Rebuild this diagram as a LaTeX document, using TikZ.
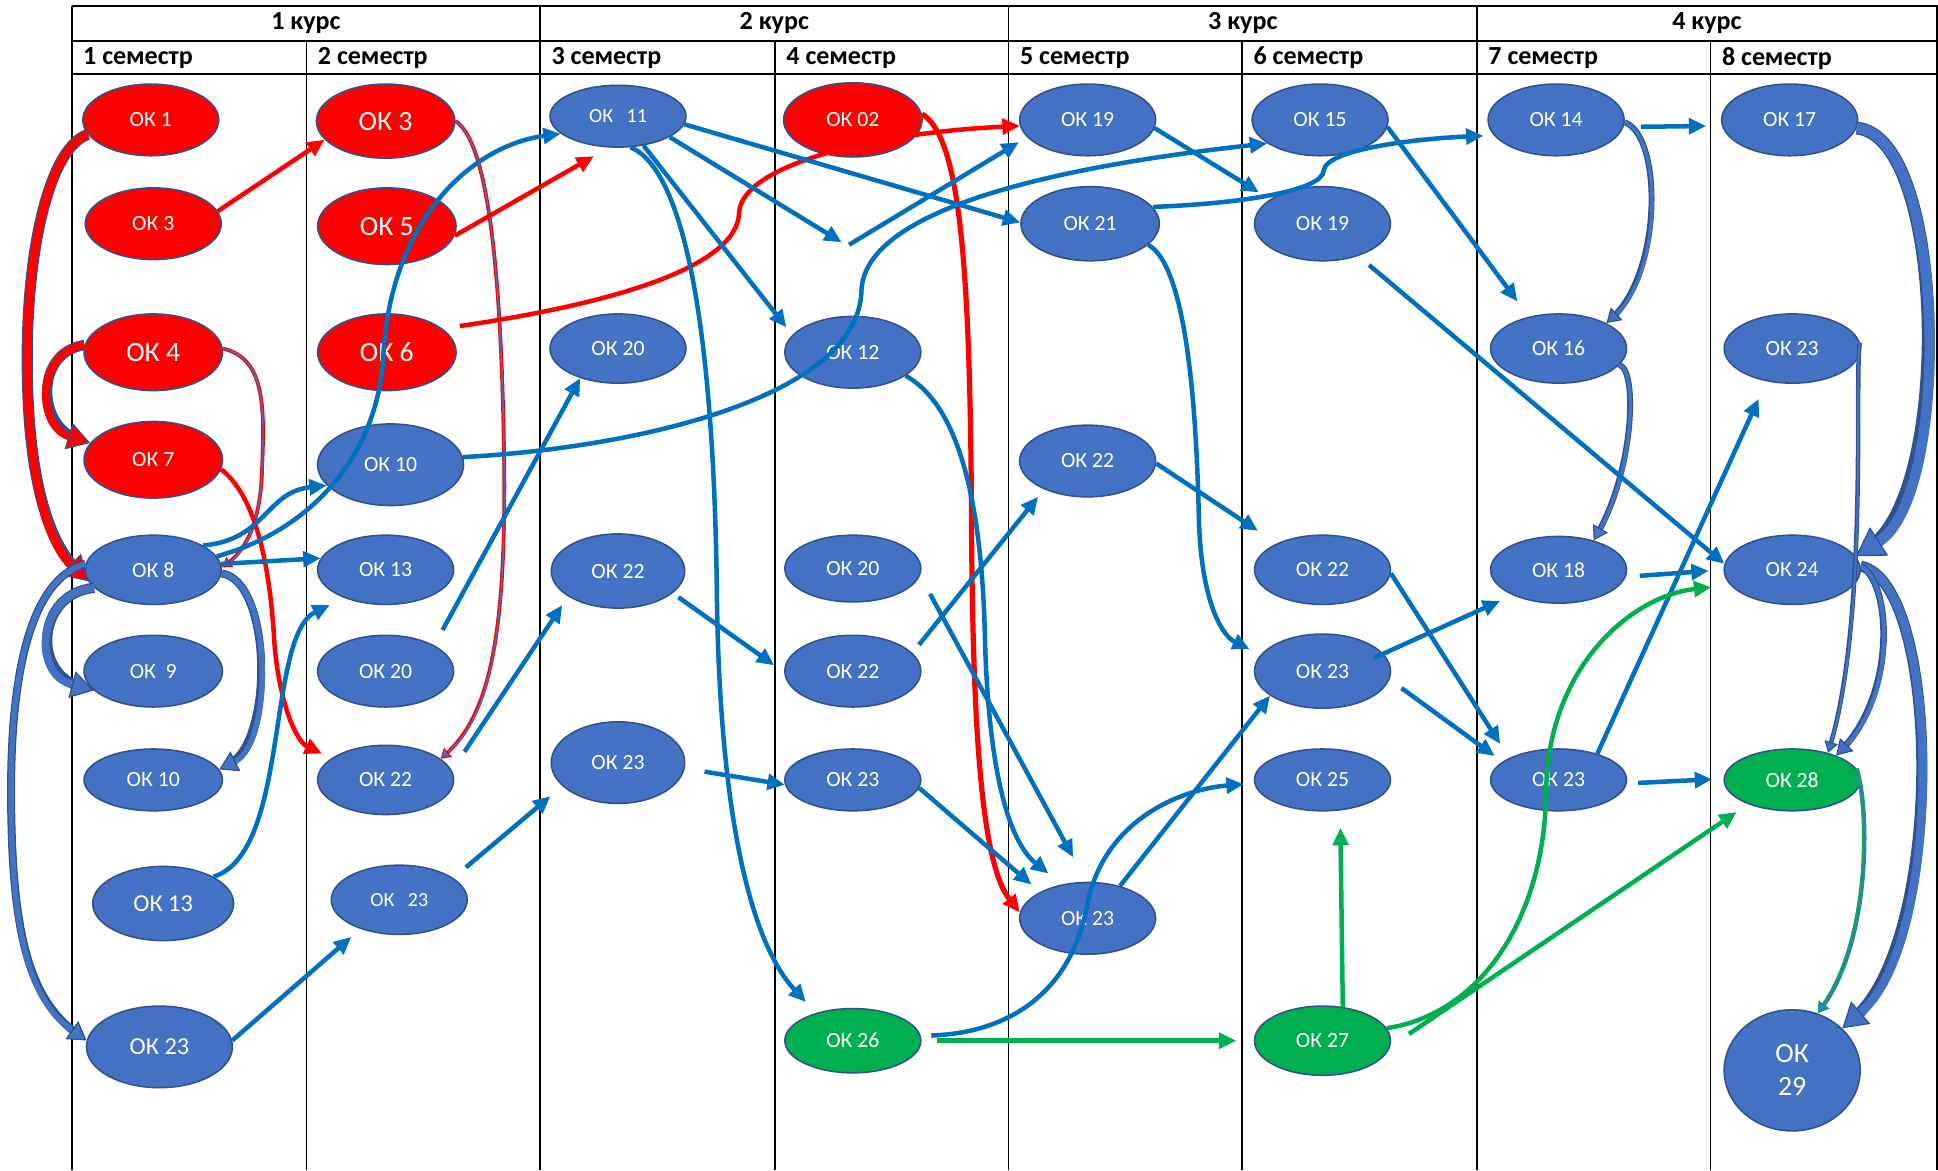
\documentclass[tikz,border=0pt]{standalone}
\usepackage{fontspec}
\setmainfont{Carlito}
\usepackage{tikz}
\usetikzlibrary{shapes.geometric, arrows.meta}
\definecolor{okfill}{HTML}{4472C4}
\definecolor{okline}{HTML}{2F528F}
\definecolor{okred}{HTML}{FF0000}
\definecolor{okgreen}{HTML}{00B050}
\definecolor{lnblue}{HTML}{0070C0}

\begin{document}
\begin{tikzpicture}[x=0.25mm, y=-0.25mm,
	ok/.style={ellipse, draw=okline, line width=0.9pt, fill=okfill, text=white, inner sep=0pt,
		minimum width=27.5mm, minimum height=14.5mm, font=\fontsize{12.5}{14}\selectfont},
	okr/.style={ok, fill=okred},
	okg/.style={ok, fill=okgreen},
	big/.style={font=\fontsize{16}{19}\selectfont},
	mid/.style={font=\fontsize{14}{16}\selectfont},
	hd/.style={font=\bfseries\fontsize{15}{17}\selectfont, inner sep=0pt},
	lnk/.style={draw=#1, line width=2.6pt, -{Triangle[length=10pt,width=9pt]}},
	lnk/.default=lnblue,
	blk/.style n args={3}{draw=#1, line width=#3,
		preaction={draw=#2, line width=#3+1.4pt, arrows=-, shorten >=2pt+1.2*#3},
		-{Triangle[length=4pt 2, width=5pt 2.4, fill=#1, color=#2, line width=0.7pt]}}]
	\useasboundingbox (0,0) rectangle (1568,947);
	\draw[line width=1.3pt] (58,5) -- (1568,5) (58,33) -- (1568,33) (58,60) -- (1568,60);
	\foreach \x in {58,437,816,1195,1567} \draw[line width=1pt] (\x,5) -- (\x,947);
	\foreach \x in {248,627,1005,1384} \draw[line width=1pt] (\x,33) -- (\x,947);
	\foreach \c [count=\i] in {247.5,626.5,1005.5,1381} \node[hd] (kurs\i) at (\c,19) {\i\ курс};
	\foreach \x [count=\i] in {58,248,437,627,816,1005,1195,1384}
		\node[hd, anchor=west] (sem\i) at (\x+9,47) {\i\ семестр};

	\node[okr] (s1k1) at (122,97) {ОК 1};
	\node[okr] (s1k3) at (124,181) {ОК 3};
	\node[okr, big, minimum width=28mm, minimum height=15.5mm] (s1k4) at (124,285) {ОК 4};
	\node[okr, minimum width=28mm, minimum height=15.5mm] (s1k7) at (124,372) {ОК 7};
	\node[ok, minimum height=14mm] (s1k8) at (124,461) {ОК 8};
	\node[ok, minimum width=28mm] (s1k9) at (124,543) {ОК\ \ 9};
	\node[ok, minimum width=28mm, minimum height=12.5mm] (s1k10) at (124,631) {ОК 10};
	\node[ok, mid, minimum width=28.5mm, minimum height=15mm] (s1k13) at (132,731) {ОК 13};
	\node[ok, mid, minimum width=29.5mm, minimum height=16.5mm] (s1k23) at (129,847) {ОК 23};

	\node[okr, big, minimum width=28mm, minimum height=15mm] (s2k3) at (312,98) {ОК 3};
	\node[okr, big, minimum width=28mm, minimum height=15.5mm] (s2k5) at (313,183) {ОК 5};
	\node[okr, big, minimum width=28mm, minimum height=15.5mm] (s2k6) at (313,285) {ОК 6};
	\node[ok, minimum width=29.5mm, minimum height=16.5mm] (s2k10) at (316,376) {ОК 10};
	\node[ok, minimum height=14mm] (s2k13) at (312,461) {ОК 13};
	\node[ok] (s2k20) at (312,543) {ОК 20};
	\node[ok, minimum height=14mm] (s2k22) at (312,631) {ОК 22};
	\node[ok, minimum height=14mm, font=\fontsize{11.5}{13}\selectfont] (s2k23) at (323,728) {ОК\ \ \ 23};

	\node[ok, minimum height=12.5mm, font=\fontsize{11.5}{13}\selectfont] (s3k11) at (500,94) {ОК\ \ \ 11};
	\node[ok, minimum height=14mm] (s3k20) at (500,282) {ОК 20};
	\node[ok, minimum width=27mm, minimum height=15mm] (s3k22) at (500,462) {ОК 22};
	\node[ok, minimum width=27mm, minimum height=16.5mm] (s3k23) at (500,617) {ОК 23};

	\node[okr, minimum width=28mm, minimum height=15mm] (s4k02) at (690,97) {ОК 02};
	\node[ok] (s4k12) at (690,285) {ОК 12};
	\node[ok, minimum height=13.5mm] (s4k20) at (690,460) {ОК 20};
	\node[ok] (s4k22) at (690,543) {ОК 22};
	\node[ok, minimum height=12.5mm] (s4k23) at (690,631) {ОК 23};
	\node[okg, minimum height=13mm] (s4k26) at (690,842) {ОК 26};

	\node[ok] (s5k19) at (880,97) {ОК 19};
	\node[ok, minimum width=28mm, minimum height=15mm] (s5k21) at (882,181) {ОК 21};
	\node[ok] (s5k22) at (880,373) {ОК 22};
	\node[ok] (s5k23) at (880,743) {ОК 23};

	\node[ok] (s6k15) at (1068,97) {ОК 15};
	\node[ok, minimum height=15mm] (s6k19) at (1070,181) {ОК 19};
	\node[ok, minimum height=14mm] (s6k22) at (1070,461) {ОК 22};
	\node[ok, minimum height=15mm] (s6k23) at (1070,543) {ОК 23};
	\node[ok, minimum height=12.5mm] (s6k25) at (1070,631) {ОК 25};
	\node[okg, minimum height=14mm] (s6k27) at (1070,842) {ОК 27};

	\node[ok] (s7k14) at (1259,97) {ОК 14};
	\node[ok, minimum height=14mm] (s7k16) at (1261,282) {ОК 16};
	\node[ok, minimum height=13.5mm] (s7k18) at (1261,461) {ОК 18};
	\node[ok, minimum height=12.5mm] (s7k23) at (1261,631) {ОК 23};

	\node[ok] (s8k17) at (1448,97) {ОК 17};
	\node[ok, minimum height=14mm] (s8k23) at (1450,282) {ОК 23};
	\node[ok, minimum height=14mm] (s8k24) at (1450,461) {ОК 24};
	\node[okg, minimum height=12.5mm] (s8k28) at (1450,631) {ОК 28};
	\node[ok, big, align=center, minimum height=24.5mm] (s8k29) at (1450,866) {ОК\\29};

	\coordinate (free1) at (681,196);
	\coordinate (free2) at (687,198);

	\draw[blk={okred}{okline}{5pt}] (s1k1.193) .. controls (40,120) and (22,200) .. (22,290) .. controls (22,390) and (40,440) .. (s1k8.190);
	\draw[blk={okred}{okline}{4.5pt}] (s1k4.174) .. controls (28,285) and (30,345) .. (s1k7.165);
	\draw[blk={okfill}{okline}{4.5pt}] (s1k8.197) .. controls (30,480) and (25,545) .. (s1k9.198);
	\draw[blk={okfill}{okline}{3.2pt}] (s1k8.175) .. controls (20,470) and (8,560) .. (9,650) .. controls (10,760) and (25,810) .. (s1k23.175);
	\draw[blk={okfill}{okline}{3.2pt}] (s1k8.357) .. controls (220,470) and (222,600) .. (s1k10.9);
	\draw[blk={okfill}{okred}{0.8pt}] (s1k4.3) .. controls (215,290) and (214,330) .. (212,380) .. controls (211,420) and (200,445) .. (s1k8.2);
	\draw[blk={okfill}{okred}{0.8pt}] (s2k3.0) .. controls (395,115) and (406,220) .. (408,380) .. controls (409,520) and (395,580) .. (s2k22.21);
	\draw[blk={okfill}{okline}{2pt}] (s7k14.358) .. controls (1345,110) and (1345,220) .. (s7k16.28);
	\draw[blk={okfill}{okline}{2pt}] (s7k16.345) .. controls (1325,300) and (1322,380) .. (s7k18.40);
	\draw[blk={okfill}{okline}{6pt}] (s8k17.353) .. controls (1575,110) and (1580,400) .. (s8k24.12);
	\draw[blk={okfill}{okline}{5pt}] (s8k24.3) .. controls (1570,470) and (1575,760) .. (s8k29.40);
	\draw[blk={okfill}{okline}{2.4pt}] (s8k24.3) .. controls (1530,470) and (1535,560) .. (s8k28.29);
	\draw[blk={okfill}{okline}{1.2pt}] (s8k23.5) .. controls (1500,300) and (1512,500) .. (s8k28.37);
	\draw[blk={okfill}{okgreen}{1.2pt}] (s8k28.10) .. controls (1512,650) and (1515,760) .. (s8k29.66);

	\draw[lnk=okred] (s1k3.11) -- (s2k3.197);
	\draw[lnk=okred, shorten >=10pt] (s2k5.352) -- (s3k11.254);
	\draw[lnk=okred, shorten <=10pt] (s2k6.23) .. controls (500,245) and (597,215) .. (598,172) .. controls (600,135) and (700,108) .. (s5k19.185);
	\draw[lnk=okred, line width=3pt] (s4k02.5) .. controls (775,110) and (785,200) .. (786,420) .. controls (787,600) and (795,700) .. (s5k23.175);
	\draw[lnk=okred, shorten >=6pt] (s1k7.352) .. controls (205,400) and (218,450) .. (222,520) .. controls (226,570) and (240,600) .. (s2k22.158);

	\draw[lnk] (s1k8.26) .. controls (215,437) and (215,398) .. (s2k10.198);
	\draw[lnk] (s1k8.12) .. controls (250,430) and (305,370) .. (310,290) .. controls (315,180) and (380,118) .. (s3k11.197);
	\draw[lnk] (s1k8.5) -- (s2k13.170);
	\draw[lnk, shorten >=9pt] (s1k13.28) .. controls (235,690) and (215,515) .. (s2k13.214);
	\draw[lnk, shorten >=7pt] (s1k23.5) -- (s2k23.217);
	\draw[lnk, shorten <=10pt] (s2k20.28) -- (s3k20.218);
	\draw[lnk, shorten <=13pt, shorten >=6pt] (s2k22.8) -- (s3k22.207);
	\draw[lnk, shorten <=9.5pt, shorten >=9pt] (s2k23.22) -- (s3k23.203);
	\draw[lnk] (s2k10.6) .. controls (520,362) and (695,320) .. (697,235) .. controls (700,160) and (900,130) .. (s6k15.204);
	\draw[lnk] (s3k11.353) -- (s5k21.179);
	\draw[lnk] (s3k11.338) -- (free1);
	\draw[lnk, shorten >=5.5pt] (free2) -- (s5k19.196);
	\draw[lnk, shorten >=5.5pt] (s3k11.311) -- (s4k12.164);
	\draw[lnk, shorten >=8.5pt] (s3k11.292) .. controls (560,140) and (578,300) .. (580,480) .. controls (582,650) and (605,760) .. (s4k26.143);
	\draw[lnk, shorten <=4pt, shorten >=7pt] (s3k22.338) -- (s4k22.181);
	\draw[lnk, shorten <=11.5pt] (s3k23.355) -- (s4k23.184);
	\draw[lnk, shorten >=10pt] (s4k12.336) .. controls (780,330) and (795,420) .. (797,520) .. controls (800,620) and (815,680) .. (s5k23.127);
	\draw[lnk, shorten <=12pt, shorten >=16pt] (s4k20.354) -- (s5k23.92);
	\draw[lnk, shorten <=6pt, shorten >=5.5pt] (s4k22.17) -- (s5k22.213);
	\draw[lnk, shorten >=6.5pt] (s4k23.353) -- (s5k23.151);
	\draw[lnk, shorten >=7.5pt] (s5k19.353) -- (s6k19.155);
	\draw[lnk, shorten >=6pt] (s5k21.15) .. controls (1000,165) and (1070,155) .. (1071,138) .. controls (1073,120) and (1150,112) .. (s7k14.194);
	\draw[lnk, shorten >=13pt] (s5k22.358) -- (s6k22.150);
	\draw[lnk, shorten >=7pt] (s5k21.340) .. controls (960,215) and (968,330) .. (970,420) .. controls (972,490) and (990,515) .. (s6k23.165);
	\draw[lnk] (s5k23.45) -- (s6k23.205);
	\draw[lnk, shorten <=6pt, shorten >=6pt] (s4k26.4) .. controls (830,835) and (870,790) .. (880,730) .. controls (895,660) and (960,638) .. (s6k25.183);
	\draw[lnk, shorten <=8pt] (s6k19.318) -- (s8k24.175);
	\draw[lnk, shorten >=11pt] (s6k15.354) -- (s7k16.133);
	\draw[lnk, shorten >=9.5pt] (s6k22.357) -- (s7k23.156);
	\draw[lnk, shorten <=-6pt, shorten >=8pt] (s6k23.16) -- (s7k18.209);
	\draw[lnk, shorten <=8.5pt, shorten >=5.5pt] (s6k23.353) -- (s7k23.162);
	\draw[lnk, shorten <=10pt, shorten >=9pt] (s7k14.354) -- (s8k17.185);
	\draw[lnk, shorten <=8pt, shorten >=8.5pt] (s7k18.354) -- (s8k24.180);
	\draw[lnk, shorten >=11pt] (s7k23.34) -- (s8k23.232);
	\draw[lnk, shorten <=6.5pt, shorten >=6.5pt] (s7k23.357) -- (s8k28.179);

	\draw[lnk=okgreen, shorten <=9pt, shorten >=10pt] (s4k26.0) -- (s6k27.180);
	\draw[lnk=okgreen, shorten >=10pt] (s6k27.59) -- (s6k25.300);
	\draw[lnk=okgreen, shorten >=11pt] (s6k27.11) .. controls (1200,820) and (1250,740) .. (1251,640) .. controls (1252,540) and (1320,482) .. (s8k24.194);
	\draw[lnk=okgreen, shorten <=13pt, shorten >=8pt] (s6k27.355) -- (s8k28.209);
\end{tikzpicture}
\end{document}
